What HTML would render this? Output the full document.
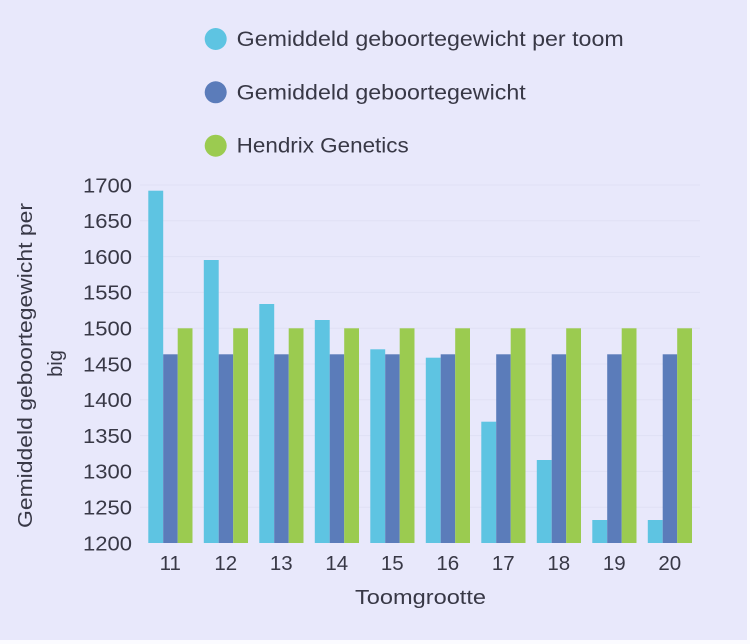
<!DOCTYPE html>
<html>
<head>
<meta charset="utf-8">
<style>
html,body{margin:0;padding:0;background:#fdfdff;}
svg{display:block;}
text{font-family:"Liberation Sans","DejaVu Sans",sans-serif;fill:#383846;}
</style>
</head>
<body>
<svg width="750" height="644" viewBox="0 0 750 644" xmlns="http://www.w3.org/2000/svg">
  <rect x="0" y="0" width="750" height="644" fill="#fbfbff"/>
  <rect x="0" y="0" width="747" height="640" fill="#e8e8fb"/>

  <!-- Legend -->
  <circle cx="215.7" cy="39" r="11" fill="#5ec4e2"/>
  <text x="236.7" y="46" font-size="21" textLength="387" lengthAdjust="spacingAndGlyphs">Gemiddeld geboortegewicht per toom</text>
  <circle cx="215.7" cy="92.3" r="11" fill="#5b7cba"/>
  <text x="236.7" y="99.3" font-size="21" textLength="289" lengthAdjust="spacingAndGlyphs">Gemiddeld geboortegewicht</text>
  <circle cx="215.7" cy="145.7" r="11" fill="#9bcb50"/>
  <text x="236.7" y="152.7" font-size="21" textLength="172" lengthAdjust="spacingAndGlyphs">Hendrix Genetics</text>

  <!-- Gridlines -->
  <g stroke="#dfe0f4" stroke-width="1">
    <line x1="140" x2="700" y1="185" y2="185"/>
    <line x1="140" x2="700" y1="220.8" y2="220.8"/>
    <line x1="140" x2="700" y1="256.6" y2="256.6"/>
    <line x1="140" x2="700" y1="292.4" y2="292.4"/>
    <line x1="140" x2="700" y1="328.2" y2="328.2"/>
    <line x1="140" x2="700" y1="364" y2="364"/>
    <line x1="140" x2="700" y1="399.8" y2="399.8"/>
    <line x1="140" x2="700" y1="435.6" y2="435.6"/>
    <line x1="140" x2="700" y1="471.4" y2="471.4"/>
    <line x1="140" x2="700" y1="507.2" y2="507.2"/>
  </g>

  <!-- Y tick labels -->
  <g font-size="20.5">
    <text x="83" y="192.3" textLength="49" lengthAdjust="spacingAndGlyphs">1700</text>
    <text x="83" y="228.1" textLength="49" lengthAdjust="spacingAndGlyphs">1650</text>
    <text x="83" y="263.9" textLength="49" lengthAdjust="spacingAndGlyphs">1600</text>
    <text x="83" y="299.7" textLength="49" lengthAdjust="spacingAndGlyphs">1550</text>
    <text x="83" y="335.5" textLength="49" lengthAdjust="spacingAndGlyphs">1500</text>
    <text x="83" y="371.3" textLength="49" lengthAdjust="spacingAndGlyphs">1450</text>
    <text x="83" y="407.1" textLength="49" lengthAdjust="spacingAndGlyphs">1400</text>
    <text x="83" y="442.9" textLength="49" lengthAdjust="spacingAndGlyphs">1350</text>
    <text x="83" y="478.7" textLength="49" lengthAdjust="spacingAndGlyphs">1300</text>
    <text x="83" y="514.5" textLength="49" lengthAdjust="spacingAndGlyphs">1250</text>
    <text x="83" y="550.3" textLength="49" lengthAdjust="spacingAndGlyphs">1200</text>
  </g>

  <!-- Y axis title -->
  <text transform="translate(32,365.5) rotate(-90)" font-size="20" text-anchor="middle" textLength="325" lengthAdjust="spacingAndGlyphs">Gemiddeld geboortegewicht per</text>
  <text transform="translate(62,363.5) rotate(-90)" font-size="20" text-anchor="middle">big</text>

  <!-- Bars -->
  <g>
    <!-- cyan -->
    <g fill="#5ec4e2">
      <rect x="148.3" y="190.7" width="14.9" height="352.3"/>
      <rect x="203.8" y="260" width="14.9" height="283"/>
      <rect x="259.3" y="304" width="14.9" height="239"/>
      <rect x="314.8" y="320" width="14.9" height="223"/>
      <rect x="370.3" y="349.3" width="14.9" height="193.7"/>
      <rect x="425.8" y="357.7" width="14.9" height="185.3"/>
      <rect x="481.3" y="421.7" width="14.9" height="121.3"/>
      <rect x="536.8" y="460" width="14.9" height="83"/>
      <rect x="592.3" y="520" width="14.9" height="23"/>
      <rect x="647.8" y="520" width="14.9" height="23"/>
    </g>
    <!-- dark blue -->
    <g fill="#5b7cba">
      <rect x="163.2" y="354.3" width="14.5" height="188.7"/>
      <rect x="218.7" y="354.3" width="14.5" height="188.7"/>
      <rect x="274.2" y="354.3" width="14.5" height="188.7"/>
      <rect x="329.7" y="354.3" width="14.5" height="188.7"/>
      <rect x="385.2" y="354.3" width="14.5" height="188.7"/>
      <rect x="440.7" y="354.3" width="14.5" height="188.7"/>
      <rect x="496.2" y="354.3" width="14.5" height="188.7"/>
      <rect x="551.7" y="354.3" width="14.5" height="188.7"/>
      <rect x="607.2" y="354.3" width="14.5" height="188.7"/>
      <rect x="662.7" y="354.3" width="14.5" height="188.7"/>
    </g>
    <!-- green -->
    <g fill="#9bcb50">
      <rect x="177.7" y="328.3" width="14.8" height="214.7"/>
      <rect x="233.2" y="328.3" width="14.8" height="214.7"/>
      <rect x="288.7" y="328.3" width="14.8" height="214.7"/>
      <rect x="344.2" y="328.3" width="14.8" height="214.7"/>
      <rect x="399.7" y="328.3" width="14.8" height="214.7"/>
      <rect x="455.2" y="328.3" width="14.8" height="214.7"/>
      <rect x="510.7" y="328.3" width="14.8" height="214.7"/>
      <rect x="566.2" y="328.3" width="14.8" height="214.7"/>
      <rect x="621.7" y="328.3" width="14.8" height="214.7"/>
      <rect x="677.2" y="328.3" width="14.8" height="214.7"/>
    </g>
  </g>

  <!-- X tick labels -->
  <g font-size="20.5" text-anchor="middle">
    <text x="170.3" y="570">11</text>
    <text x="225.8" y="570">12</text>
    <text x="281.3" y="570">13</text>
    <text x="336.8" y="570">14</text>
    <text x="392.3" y="570">15</text>
    <text x="447.8" y="570">16</text>
    <text x="503.3" y="570">17</text>
    <text x="558.8" y="570">18</text>
    <text x="614.3" y="570">19</text>
    <text x="669.8" y="570">20</text>
  </g>

  <!-- X axis title -->
  <text x="355" y="604" font-size="20" textLength="131" lengthAdjust="spacingAndGlyphs">Toomgrootte</text>
</svg>
</body>
</html>
